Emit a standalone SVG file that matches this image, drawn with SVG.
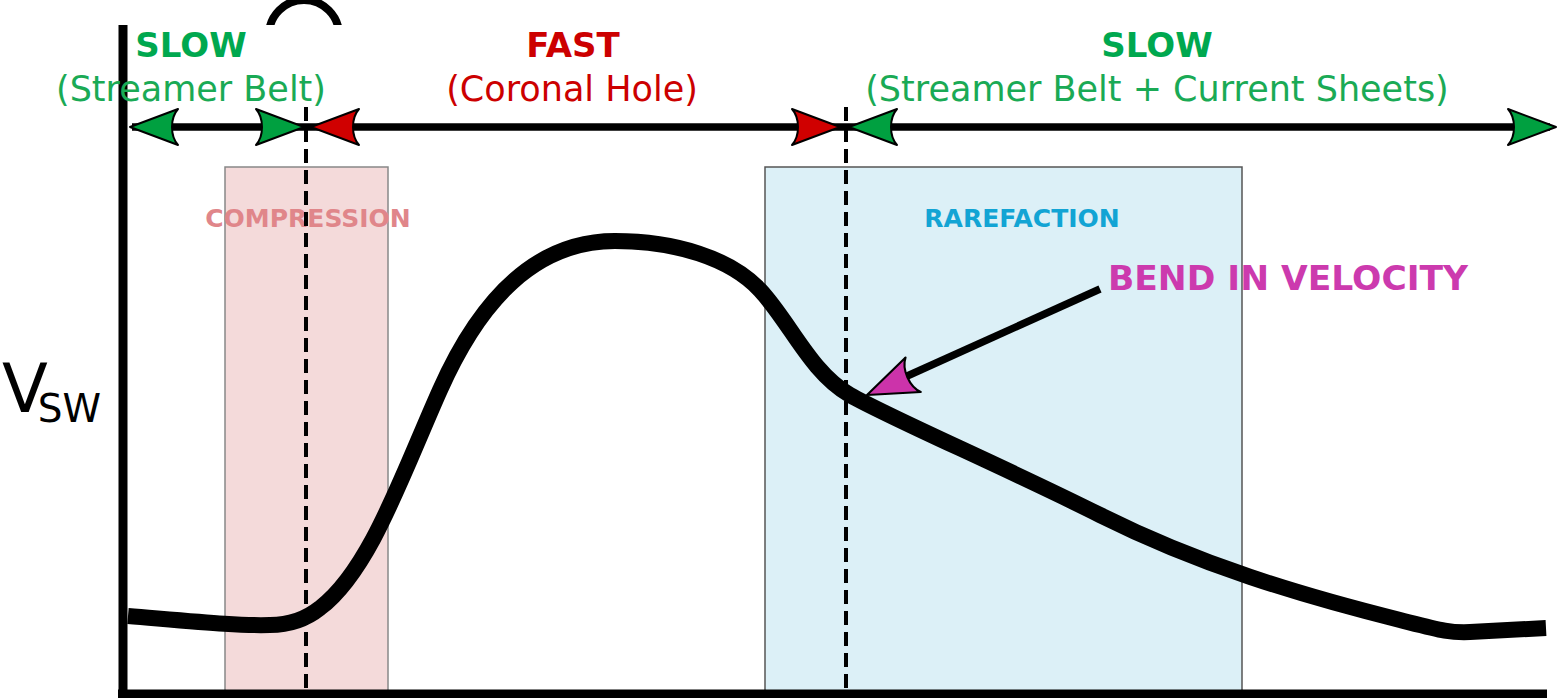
<svg xmlns="http://www.w3.org/2000/svg" xmlns:xlink="http://www.w3.org/1999/xlink" width="1559" height="698" viewBox="0 0 1559 698">
<style>
text{font-family:"DejaVu Sans","Verdana",sans-serif;}
.b{font-weight:bold;}
.mid{text-anchor:middle;}
.green{fill:#00a84f;}
.red{fill:#cc0000;}
.dash{stroke:#000;stroke-width:4;stroke-dasharray:14 7;fill:none;}
.axis{stroke:#000;stroke-width:9;fill:none;}
.hl{stroke:#000;stroke-width:7.5;fill:none;}
.ag{fill:#00a040;stroke:#000;stroke-width:2;stroke-linejoin:round;}
.ar{fill:#d00000;stroke:#000;stroke-width:2;stroke-linejoin:round;}
.am{fill:#cc33aa;stroke:#000;stroke-width:2;stroke-linejoin:round;}
</style>
<defs>
<path id="ah" d="M0,0 L-48,-18 C-40,-9 -40,9 -48,18 Z"/>
<clipPath id="topclip"><rect x="0" y="0" width="1559" height="25"/></clipPath>
</defs>
<rect width="1559" height="698" fill="#fff"/>
<g id="ring" clip-path="url(#topclip)"><circle cx="304" cy="35" r="35" fill="none" stroke="#000" stroke-width="8"/></g>
<g id="compression">
<rect x="225" y="167" width="163" height="540" fill="#f4dada" stroke="#888" stroke-width="1.5"/>
<text x="308" y="227" class="b mid" font-size="25" fill="#e0868a">COMPRESSION</text>
</g>
<g id="rarefaction">
<rect x="765" y="167" width="477" height="540" fill="#dcf0f7" stroke="#555" stroke-width="1.5"/>
<text x="1022" y="227" class="b mid" font-size="25" fill="#12a4d4">RAREFACTION</text>
</g>
<g id="bend-label">
<text x="1288" y="290" class="b mid" font-size="34.5" fill="#cc3aae">BEND IN VELOCITY</text>
</g>
<g id="axes">
<line class="axis" x1="123" y1="25" x2="123" y2="698"/>
<line class="axis" x1="118" y1="694" x2="1547" y2="694"/>
</g>
<g id="vsw">
<text x="2" y="412" font-size="67">V<tspan dx="-10" dy="10" font-size="39">SW</tspan></text>
</g>
<g id="dividers">
<line class="dash" x1="306" y1="107" x2="306" y2="698"/>
<line class="dash" x1="846" y1="107" x2="846" y2="698"/>
</g>
<g id="curve">
<path d="M128,616 C200,622 240,626 270,625 C290,625 305,620 320,608 C370,570 402,475 440,390 C480,300 535,241 615,241 C675,241 730,258 760,290 C790,322 810,372 850,395 C890,418 1000,465 1100,515 C1200,565 1300,595 1400,620 C1440,630 1450,633 1470,632 L1546,628" fill="none" stroke="#000" stroke-width="16"/>
</g>
<g id="top-labels">
<g id="slow-left"><text x="191" y="57" class="b mid green" font-size="34">SLOW</text><text x="191" y="101" class="mid" font-size="35" fill="#1aaa55">(Streamer Belt)</text></g>
<g id="fast"><text x="573" y="57" class="b mid red" font-size="34">FAST</text><text x="572" y="101" class="mid red" font-size="35">(Coronal Hole)</text></g>
<g id="slow-right"><text x="1157" y="57" class="b mid green" font-size="34">SLOW</text><text x="1157" y="101" class="mid" font-size="35" fill="#1aaa55">(Streamer Belt + Current Sheets)</text></g>
</g>
<g id="connectors">
<line class="hl" x1="132" y1="127" x2="1550" y2="127"/>
<use xlink:href="#ah" class="ag" transform="translate(130,127) rotate(180)"/>
<use xlink:href="#ah" class="ag" transform="translate(304,127)"/>
<use xlink:href="#ah" class="ar" transform="translate(311,127) rotate(180)"/>
<use xlink:href="#ah" class="ar" transform="translate(840,127)"/>
<use xlink:href="#ah" class="ag" transform="translate(849,127) rotate(180)"/>
<use xlink:href="#ah" class="ag" transform="translate(1556,127)"/>
<line class="hl" x1="1100" y1="289" x2="905" y2="377"/>
<use xlink:href="#ah" class="am" transform="translate(867,395) rotate(156.3) scale(1.05)"/>
</g>
</svg>
